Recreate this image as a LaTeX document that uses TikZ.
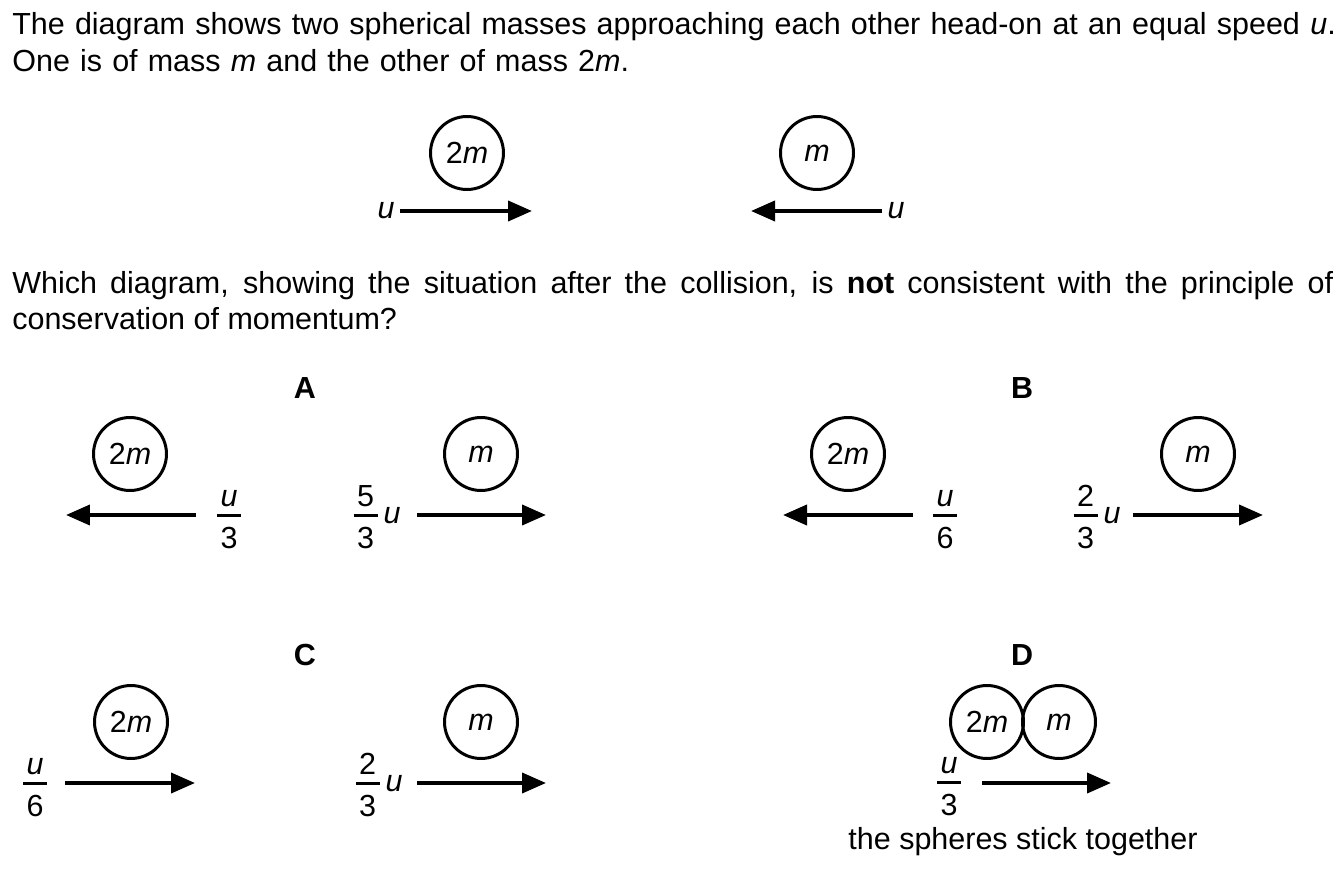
\documentclass[tikz,border=0pt]{standalone}
\usepackage{fontspec}
\setmainfont{Liberation Sans}
\usetikzlibrary{arrows.meta}
\newcommand{\qfont}{\fontsize{17.35}{20.5}\selectfont}
\newcommand{\vfrac}[2]{{\renewcommand\arraystretch{0}\setlength\arrayrulewidth{1.7pt}%
  \begin{tabular}{@{\hspace{2pt}}c@{\hspace{2pt}}}\rule[-4.5pt]{0pt}{17.6pt}#1\\\hline\rule{0pt}{17.6pt}#2\end{tabular}}}

\begin{document}
\begin{tikzpicture}[x=0.02cm,y=-0.02cm,font=\qfont,
  ball/.style={draw,circle,line width=1.7pt,minimum size=1.46cm,inner sep=0pt},
  vel/.style={line width=2.2pt,-{Triangle[length=0.48cm,width=0.4cm]}},
  lbl/.style={inner sep=0pt},
  head/.style={inner sep=0pt,font=\qfont\bfseries}]
\useasboundingbox (0,0) rectangle (1344,868);

\node[lbl,anchor=base west,text width=27cm,align=left] (intro) at (12,35)
  {The diagram shows two spherical masses approaching each other head-on at an equal speed \textit{u}.\\
   One is of mass \textit{m} and the other of mass 2\textit{m}.};

\node[ball] (top2m) at (467,153) {2\textit{m}};
\node[ball] (topm) at (817,153) {\textit{m}};
\node[lbl] (topu1) at (386,211) {\textit{u}};
\node[lbl] (topu2) at (896,211) {\textit{u}};
\coordinate (ts1) at (400,211);
\coordinate (te1) at (532,211);
\coordinate (ts2) at (882,211);
\coordinate (te2) at (751,211);
\draw[vel] (ts1) -- (te1);
\draw[vel] (ts2) -- (te2);

\node[lbl,anchor=base west,text width=26.42cm,align=justify] (question) at (12,293)
  {Which diagram, showing the situation after the collision, is \textbf{not} consistent with the principle of\linebreak
   conservation of momentum?};

\node[head] (labA) at (305,388) {A};
\node[ball] (A2m) at (130,454) {2\textit{m}};
\node[ball] (Am) at (481,454) {\textit{m}};
\node[lbl] (Afr1) at (229,516) {\vfrac{\textit{u}}{3}};
\node[lbl,anchor=east] (Afr2) at (401,516) {\vfrac{5}{3}\hspace{3.5pt}\textit{u}};
\coordinate (As1) at (196,515);
\coordinate (Ae1) at (66,515);
\coordinate (As2) at (417,515);
\coordinate (Ae2) at (546,515);
\draw[vel] (As1) -- (Ae1);
\draw[vel] (As2) -- (Ae2);

\node[head] (labB) at (1022,388) {B};
\node[ball] (B2m) at (848,454) {2\textit{m}};
\node[ball] (Bm) at (1198,454) {\textit{m}};
\node[lbl] (Bfr1) at (945,516) {\vfrac{\textit{u}}{6}};
\node[lbl,anchor=east] (Bfr2) at (1121,516) {\vfrac{2}{3}\hspace{3.5pt}\textit{u}};
\coordinate (Bs1) at (913,515);
\coordinate (Be1) at (783,515);
\coordinate (Bs2) at (1133,515);
\coordinate (Be2) at (1263,515);
\draw[vel] (Bs1) -- (Be1);
\draw[vel] (Bs2) -- (Be2);

\node[head] (labC) at (305,655) {C};
\node[ball] (C2m) at (131,722) {2\textit{m}};
\node[ball] (Cm) at (481,722) {\textit{m}};
\node[lbl] (Cfr1) at (35,784) {\vfrac{\textit{u}}{6}};
\node[lbl,anchor=east] (Cfr2) at (403,784) {\vfrac{2}{3}\hspace{3.5pt}\textit{u}};
\coordinate (Cs1) at (65,783);
\coordinate (Ce1) at (195,783);
\coordinate (Cs2) at (417,783);
\coordinate (Ce2) at (546,783);
\draw[vel] (Cs1) -- (Ce1);
\draw[vel] (Cs2) -- (Ce2);

\node[head] (labD) at (1022,655) {D};
\node[ball] (D2m) at (987,722) {2\textit{m}};
\node[ball] (Dm) at (1059,722) {\textit{m}};
\node[lbl] (Dfr) at (949,783) {\vfrac{\textit{u}}{3}};
\coordinate (Ds) at (982,783);
\coordinate (De) at (1111,783);
\draw[vel] (Ds) -- (De);
\node[lbl] (stick) at (1023,842) {the spheres stick together};
\end{tikzpicture}
\end{document}
